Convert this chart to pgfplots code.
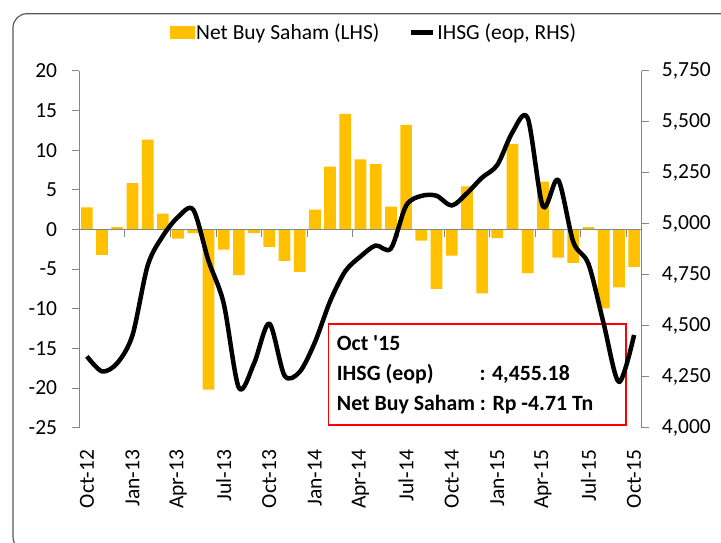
\documentclass[border=0pt]{standalone}
\usepackage{pgfplots}
\pgfplotsset{compat=1.18}
\usepackage{pgfplotstable}
\usepackage{fontspec}
\setmainfont{Carlito}
\definecolor{gold}{HTML}{FFC000}
\definecolor{axgray}{HTML}{868686}
\definecolor{boxred}{HTML}{FF0000}

\pgfplotstableread{
idx nb
0 2.8
1 -3.2
2 0.3
3 5.85
4 11.35
5 2.0
6 -1.15
7 -0.45
8 -20.2
9 -2.55
10 -5.75
11 -0.45
12 -2.2
13 -3.95
14 -5.35
15 2.5
16 7.95
17 14.6
18 8.85
19 8.25
20 2.9
21 13.2
22 -1.4
23 -7.5
24 -3.3
25 5.45
26 -8.05
27 -1.1
28 10.8
29 -5.5
30 6.05
31 -3.55
32 -4.2
33 0.3
34 -9.95
35 -7.3
36 -4.71
}\nbtable

\pgfplotstableread{
idx ihsg
0 4350
1 4276
2 4317
3 4454
4 4796
5 4941
6 5034
7 5069
8 4819
9 4610
10 4195
11 4316
12 4511
13 4256
14 4274
15 4419
16 4620
17 4768
18 4840
19 4894
20 4879
21 5089
22 5137
23 5138
24 5090
25 5150
26 5227
27 5289
28 5450
29 5519
30 5086
31 5216
32 4911
33 4803
34 4510
35 4224
36 4455
}\ihsgtable

\begin{document}
\begin{tikzpicture}[x=1pt,y=1pt,font=\fontsize{21.5}{25}\selectfont]
\useasboundingbox (0,0) rectangle (721,543);
\draw[black!65, line width=1.2pt, rounded corners=14pt] (13,-8) rectangle (740,529.3);
\pgfplotsset{common/.style={
  scale only axis, width=562.4pt, height=356.7pt,
  at={(79.3pt,115.3pt)}, anchor=south west,
  xmin=-0.5, xmax=36.5,
  /pgf/number format/assume math mode=true,
  tick align=outside, major tick length=7pt,
  tick style={axgray, line width=1pt},
  clip=false,
}}
\begin{axis}[common,
  ymin=-25, ymax=20, ytick={-25,-20,...,20},
  axis y line*=left, axis x line*=bottom,
  x axis line style={draw=none},
  y axis line style={axgray, line width=1pt},
  xtick={0,3,...,36},
  xticklabels={Oct-12,Jan-13,Apr-13,Jul-13,Oct-13,Jan-14,Apr-14,Jul-14,Oct-14,Jan-15,Apr-15,Jul-15,Oct-15},
  x tick style={draw=none},
  xticklabel style={rotate=90, anchor=east, inner sep=0pt},
  xticklabel shift=15pt,
  yticklabel style={inner sep=0pt, anchor=east},
  yticklabel shift=15pt,
]
\addplot[ybar, bar width=11.7pt, fill=gold, draw=none] table[x=idx,y=nb]{\nbtable};
\draw[axgray, line width=1pt] (axis cs:-0.5,0) -- (axis cs:36.5,0);
\pgfplotsinvokeforeach{2.5,5.5,8.5,11.5,14.5,17.5,20.5,23.5,26.5,29.5,32.5,35.5}{\draw[axgray, line width=1pt] (axis cs:#1,0) -- ++(0pt,-7pt);}
\end{axis}
\draw[boxred, line width=1.5pt] (328.3,118) rectangle (626,219);
\begin{scope}[every node/.style={inner sep=0pt, anchor=base west, font=\fontsize{21.8}{25}\selectfont\bfseries}]
\node at (336.7,192.3) {Oct \textquotesingle15};
\node at (336.7,162) {IHSG (eop)};
\node at (479.3,162) {: 4,455.18};
\node at (336.7,132) {Net Buy Saham : Rp -4.71 Tn};
\end{scope}
\begin{axis}[common,
  ymin=4000, ymax=5750, ytick={4000,4250,...,5750},
  axis y line*=right, axis x line=none,
  y axis line style={axgray, line width=1pt},
  /pgf/number format/1000 sep={,},
  yticklabel style={inner sep=0pt, anchor=west},
  yticklabel shift=13pt,
  legend style={at={(0.524,1.109)}, anchor=center, draw=none, fill=none, inner sep=0pt,
    legend columns=2, /tikz/every even column/.append style={column sep=28pt},
    nodes={inner sep=1.5pt}},
]
\addlegendimage{legend image code/.code={\fill[gold] (0pt,-6pt) rectangle (24pt,6pt);}}
\addlegendentry{Net Buy Saham (LHS)}
\addplot[black, line width=4.5pt, line join=round, smooth, tension=0.5,
  legend image code/.code={\draw[black, line width=5pt] (0pt,0pt) -- (22pt,0pt);}]
  table[x=idx,y=ihsg]{\ihsgtable};
\addlegendentry{IHSG (eop, RHS)}
\end{axis}
\end{tikzpicture}
\end{document}
